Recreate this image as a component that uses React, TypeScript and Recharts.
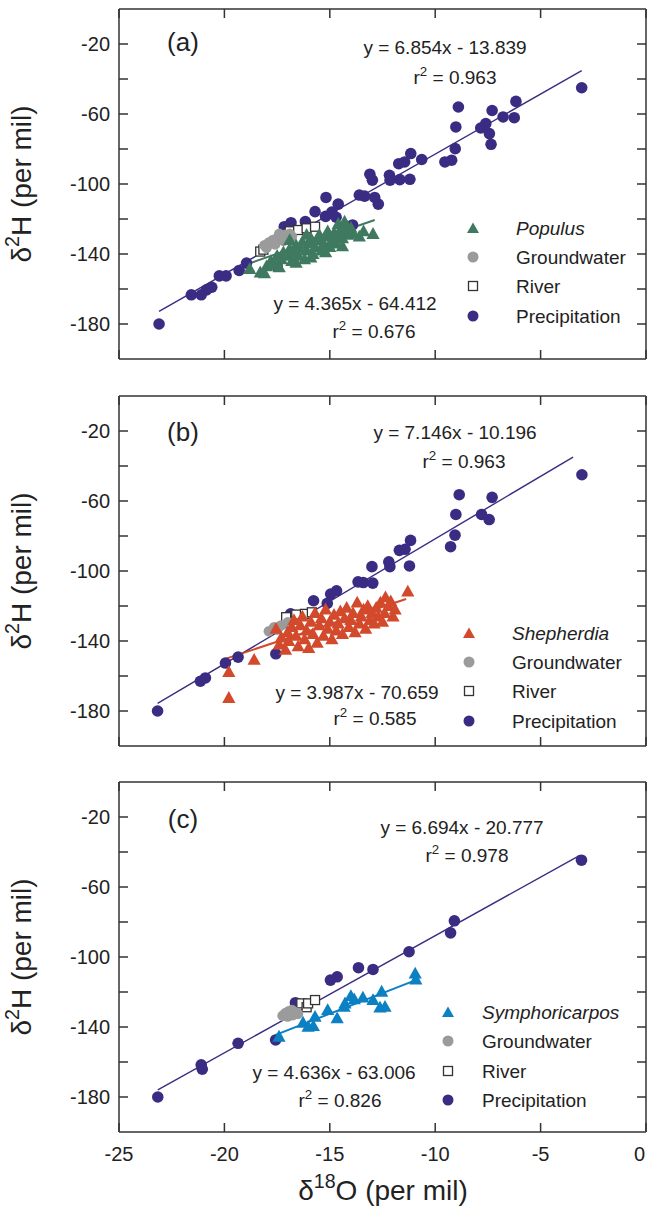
import React from "react";
import { ScatterChart, Scatter, XAxis, YAxis } from "recharts";

// δ18O / δ2H values (per mil)
type Pt = { x: number; y: number };
const toPts = (a: number[][]): Pt[] => a.map(([x, y]) => ({ x, y }));

const X_TICKS = [-25, -20, -15, -10, -5, 0];
const Y_TICKS = [-180, -160, -140, -120, -100, -80, -60, -40, -20];

// ---- panel (a) Populus ----
const A_PRECIP = [
  [-23.1, -180], [-21.57, -163.3], [-21.1, -163.3], [-20.85, -160.5], [-20.6, -159],
  [-20.24, -152.5], [-19.92, -152.5], [-19.3, -149.4], [-18.95, -145.2], [-17.5, -147],
  [-17.16, -124.4], [-16.84, -122.1], [-16.16, -121.5], [-15.7, -115.8], [-15.18, -107.7],
  [-15.2, -118.5], [-14.9, -116], [-14.7, -119], [-14.6, -111.5], [-13.92, -123.4],
  [-13.6, -106.3], [-13.35, -106.9], [-13.1, -94.4], [-12.98, -97.8], [-12.87, -107.7],
  [-12.7, -111.5], [-12.17, -95], [-12.14, -97.8], [-11.68, -97.5], [-11.2, -97.3],
  [-11.73, -88.4], [-11.45, -87.4], [-11.16, -82.6], [-10.64, -86], [-9.54, -87.4],
  [-9.22, -86.4], [-9.05, -79.8], [-9.02, -67.4], [-8.9, -56], [-7.84, -68],
  [-7.6, -65.5], [-7.43, -71.2], [-7.35, -77.3], [-7.3, -58], [-6.78, -61.7],
  [-6.25, -62.1], [-6.17, -52.8], [-3.05, -45],
];
const A_GROUND = [
  [-18.1, -135], [-17.9, -133.5], [-17.7, -132], [-17.5, -131], [-17.3, -130],
  [-17.1, -129], [-16.9, -128.5], [-18.0, -136.5], [-17.6, -134.5], [-17.2, -132.5],
  [-16.8, -130], [-17.4, -128.5],
];
const A_RIVER = [
  [-18.3, -138.6], [-18.15, -137.5], [-16.9, -127], [-16.5, -126.3], [-16.1, -125.3], [-15.7, -124.4],
];
const A_PLANT = [
  [-18.8, -148.5], [-18.3, -150.5], [-18.1, -151], [-18.0, -147], [-17.8, -144], [-17.6, -146],
  [-17.5, -141], [-17.3, -143], [-17.2, -139], [-17.0, -141], [-16.9, -137], [-16.8, -144],
  [-16.7, -139], [-16.6, -135], [-16.5, -141], [-16.4, -137], [-16.3, -133], [-16.2, -143],
  [-16.1, -138], [-16.0, -134], [-15.9, -131], [-15.8, -140], [-15.7, -136], [-15.6, -132],
  [-15.5, -129], [-15.4, -138], [-15.3, -134], [-15.2, -130], [-15.1, -127], [-15.0, -136],
  [-14.9, -132], [-14.8, -128], [-14.7, -134], [-14.6, -130], [-14.5, -126], [-14.4, -131],
  [-14.3, -127], [-14.2, -124], [-14.1, -129], [-14.0, -125], [-13.9, -128], [-13.6, -130],
  [-13.4, -127], [-12.95, -128.5], [-14.6, -122.8], [-14.3, -121.5], [-16.6, -145], [-17.4, -147.5],
  [-15.9, -142], [-15.2, -139], [-14.4, -135.5], [-16.9, -132], [-16.1, -129],
];
const A_PRECIP_FIT = [[-23.1, -172.8], [-3.05, -35.2]];
const A_PLANT_FIT = [[-18.78, -145.2], [-12.87, -120.6]];

// ---- panel (b) Shepherdia ----
const B_PRECIP = [
  [-23.17, -180], [-21.14, -163], [-20.9, -161.1], [-19.95, -152.6], [-19.35, -149.2],
  [-17.56, -147.3], [-16.86, -124.5], [-15.77, -117], [-15.12, -118.5], [-14.96, -113.2],
  [-14.68, -111.3], [-13.66, -106.2], [-13.41, -106.6], [-12.96, -106.9], [-13.0, -97.5],
  [-12.2, -94.8], [-12.15, -97.5], [-11.7, -88.2], [-11.43, -87.6], [-11.17, -82.5],
  [-11.22, -97.1], [-9.27, -86.1], [-9.06, -79.5], [-9.02, -67.7], [-8.86, -56.4],
  [-7.8, -67.7], [-7.44, -70.6], [-7.3, -57.9], [-3.04, -45],
];
const B_GROUND = [
  [-17.89, -134.4], [-17.64, -132.1], [-17.32, -131.2], [-16.99, -129.3], [-17.5, -133.5],
];
const B_RIVER = [
  [-17.07, -126.4], [-16.59, -124.9], [-16.18, -124.5], [-15.85, -123.6],
];
const B_PLANT = [
  [-19.79, -157.7], [-19.79, -172.5], [-18.59, -150.7], [-17.55, -133], [-17.4, -142],
  [-17.3, -138], [-17.1, -145], [-17.0, -135], [-16.95, -140], [-16.8, -132], [-16.7, -128],
  [-16.6, -137], [-16.5, -143], [-16.4, -131], [-16.3, -126], [-16.2, -139], [-16.1, -134],
  [-16.0, -144], [-15.9, -129], [-15.8, -136], [-15.7, -124], [-15.6, -141], [-15.5, -131],
  [-15.4, -127], [-15.3, -137], [-15.2, -122], [-15.1, -133], [-15.0, -129], [-14.9, -139],
  [-14.8, -125], [-14.7, -134], [-14.6, -130], [-14.5, -123], [-14.4, -136], [-14.3, -127],
  [-14.2, -121], [-14.1, -132], [-14.0, -128], [-13.9, -124], [-13.8, -135], [-13.7, -118],
  [-13.6, -130], [-13.5, -126], [-13.4, -122], [-13.3, -133], [-13.2, -120], [-13.1, -128],
  [-13.0, -124], [-12.9, -130], [-12.8, -121], [-12.7, -126], [-12.6, -118], [-12.5, -129],
  [-12.4, -124], [-12.36, -115], [-12.2, -120], [-12.11, -117.3], [-12.0, -126], [-11.9, -122],
  [-11.3, -111.7],
];
const B_PRECIP_FIT = [[-23.17, -175.7], [-3.46, -34.9]];
const B_PLANT_FIT = [[-19.92, -150.1], [-11.38, -116]];

// ---- panel (c) Symphoricarpos ----
const C_PRECIP = [
  [-23.16, -180], [-21.1, -161.6], [-21.05, -164.1], [-19.35, -149.3], [-17.57, -147.4],
  [-16.63, -126.1], [-14.97, -113.2], [-14.65, -111.3], [-13.64, -106.1], [-12.95, -107.1],
  [-11.24, -97], [-9.27, -86.2], [-9.09, -79.3], [-3.06, -44.7],
];
const C_GROUND = [
  [-17.24, -133.5], [-17.1, -132], [-16.95, -131], [-16.8, -130.3], [-16.65, -131.5],
  [-16.51, -132.5], [-17.0, -134], [-16.75, -133.2],
];
const C_RIVER = [
  [-16.35, -126.5], [-16.1, -128.7], [-16.03, -126.5], [-15.7, -124.6],
];
const C_PLANT = [
  [-17.41, -145.5], [-16.27, -137.5], [-16.03, -139.8], [-15.78, -139.4], [-15.7, -134.1],
  [-15.1, -130.3], [-14.65, -135], [-14.32, -128.4], [-14.28, -126.5], [-14.0, -122.3],
  [-13.84, -124.2], [-13.43, -123.2], [-12.95, -124.6], [-12.54, -119.8], [-12.62, -128.9],
  [-12.38, -128.4], [-10.95, -109.4], [-10.92, -112.8],
];
const C_PRECIP_FIT = [[-23.16, -175.9], [-3.14, -41.9]];
const C_PLANT_FIT = [[-17.57, -144.5], [-10.92, -113.2]];

const FONT = '"Liberation Sans", Arial, Helvetica, sans-serif';
const PURPLE = "#3b2c83";
const GRAY = "#9b9b9b";
const AXIS = "#333";

const circleShape = (fill: string, r: number) => (p: any) =>
  <circle cx={p.cx} cy={p.cy} r={r} fill={fill} />;
const triShape = (fill: string) => (p: any) =>
  <polygon
    points={`${p.cx},${p.cy - 6.8} ${p.cx - 6.6},${p.cy + 5} ${p.cx + 6.6},${p.cy + 5}`}
    fill={fill}
  />;
const squareShape = (p: any) =>
  <rect x={p.cx - 4.5} y={p.cy - 4.5} width={9} height={9} fill="#fff" stroke="#333" strokeWidth={1.3} />;
const noShape = () => <g />;

// last x label ("0") sits on the page edge, so anchor it at its right side
const XTick = (show: boolean) => (p: any) => {
  if (!show) return <g />;
  const v = p.payload.value;
  const atEdge = v === 0;
  return (
    <text
      x={atEdge ? p.x - 1 : p.x} y={p.y} dy="0.71em" textAnchor={atEdge ? "end" : "middle"}
      fontSize={20} fill="#222" fontFamily={FONT}
    >
      {String(v)}
    </text>
  );
};

function Sup({ base, sup, rest, size }: { base: string; sup: string; rest: string; size: number }) {
  return (
    <span>
      {base}
      <span style={{ fontSize: size * 0.7, position: "relative", top: -size * 0.42 }}>{sup}</span>
      {rest}
    </span>
  );
}

function Note({ x, y, size, children, style }: any) {
  return (
    <div
      style={{
        position: "absolute", left: x, top: y, transform: "translate(-50%, -50%)",
        fontSize: size, lineHeight: 1, whiteSpace: "nowrap", color: "#222", ...style,
      }}
    >
      {children}
    </div>
  );
}

function LegendSymbol({ kind, color }: { kind: string; color: string }) {
  return (
    <svg width={14} height={14} style={{ display: "block" }}>
      {kind === "tri" && <polygon points="7,1.5 1,12 13,12" fill={color} />}
      {kind === "circle" && <circle cx={7} cy={7} r={5.5} fill={color} />}
      {kind === "square" && <rect x={2.5} y={2.5} width={9} height={9} fill="#fff" stroke="#333" strokeWidth={1.3} />}
    </svg>
  );
}

type PanelProps = {
  top: number;
  height: number;
  letter: string;
  species: string;
  color: string;
  precip: number[][];
  ground: number[][];
  river: number[][];
  plant: number[][];
  precipFit: number[][];
  plantFit: number[][];
  eq1: string; r1: string; eq2: string; r2: string;
  pos: {
    letter: [number, number]; eq1: [number, number]; r1: [number, number];
    eq2: [number, number]; r2: [number, number];
    symX: number; textX: number; rows: number[];
  };
  xLabels: boolean;
};

// plot box: x 119..646, 350 px tall starting 9 px below the panel top
function Panel(props: PanelProps) {
  const { pos } = props;
  const legendItems = [
    { kind: "tri", color: props.color, label: props.species, italic: true },
    { kind: "circle", color: GRAY, label: "Groundwater" },
    { kind: "square", color: "#333", label: "River" },
    { kind: "circle", color: PURPLE, label: "Precipitation" },
  ];
  const xAxisH = props.height - 9 - 350 - 1;
  return (
    <div style={{ position: "absolute", left: 0, top: props.top, width: 648, height: props.height }}>
      <ScatterChart
        width={648}
        height={props.height}
        margin={{ top: 8, right: 1, bottom: 1, left: 0 }}
      >
        <XAxis
          xAxisId={0} type="number" dataKey="x" domain={[-25, 0]} ticks={X_TICKS} interval={0}
          allowDataOverflow height={xAxisH} tickSize={-9} tickMargin={24}
          stroke={AXIS} strokeWidth={1.5}
          tick={XTick(props.xLabels)}
        />
        <XAxis
          xAxisId="t" orientation="top" type="number" dataKey="x" domain={[-25, 0]} ticks={X_TICKS}
          interval={0} allowDataOverflow height={1} tickSize={-9} stroke={AXIS} strokeWidth={1.5}
          tickFormatter={() => ""}
        />
        <YAxis
          yAxisId={0} type="number" dataKey="y" domain={[-200, 0]} ticks={Y_TICKS} interval={0}
          allowDataOverflow width={119} tickSize={-9} tickMargin={18}
          stroke={AXIS} strokeWidth={1.5}
          tick={{ fontSize: 20, fill: "#222", fontFamily: FONT }}
          tickFormatter={(v: number) => ((v + 20) % 40 === 0 ? String(v) : "")}
        />
        <YAxis
          yAxisId="r" orientation="right" type="number" dataKey="y" domain={[-200, 0]} ticks={Y_TICKS}
          interval={0} allowDataOverflow width={1} tickSize={-9} stroke={AXIS} strokeWidth={1.5}
          tickFormatter={() => ""}
        />
        <Scatter data={toPts(props.precipFit)} line={{ stroke: PURPLE, strokeWidth: 1.4 }} shape={noShape} isAnimationActive={false} />
        <Scatter data={toPts(props.plantFit)} line={{ stroke: props.color, strokeWidth: 2 }} shape={noShape} isAnimationActive={false} />
        <Scatter data={toPts(props.precip)} shape={circleShape(PURPLE, 5.8)} isAnimationActive={false} />
        <Scatter data={toPts(props.river)} shape={squareShape} isAnimationActive={false} />
        <Scatter data={toPts(props.ground)} shape={circleShape(GRAY, 5.3)} isAnimationActive={false} />
        <Scatter data={toPts(props.plant)} shape={triShape(props.color)} isAnimationActive={false} />
      </ScatterChart>

      <Note x={pos.letter[0]} y={pos.letter[1]} size={26}>{props.letter}</Note>
      <Note x={pos.eq1[0]} y={pos.eq1[1]} size={19}>{props.eq1}</Note>
      <Note x={pos.r1[0]} y={pos.r1[1]} size={19}><Sup base="r" sup="2" rest={` = ${props.r1}`} size={19} /></Note>
      <Note x={pos.eq2[0]} y={pos.eq2[1]} size={19}>{props.eq2}</Note>
      <Note x={pos.r2[0]} y={pos.r2[1]} size={19}><Sup base="r" sup="2" rest={` = ${props.r2}`} size={19} /></Note>

      {legendItems.map((it, i) => (
        <React.Fragment key={it.label}>
          <div style={{ position: "absolute", left: pos.symX - 7, top: pos.rows[i] - 7 }}>
            <LegendSymbol kind={it.kind} color={it.color} />
          </div>
          <div
            style={{
              position: "absolute", left: pos.textX, top: pos.rows[i], transform: "translateY(-50%)",
              fontSize: 19, lineHeight: 1, whiteSpace: "nowrap", color: "#222",
              fontStyle: it.italic ? "italic" : "normal",
            }}
          >
            {it.label}
          </div>
        </React.Fragment>
      ))}

      <div
        style={{
          position: "absolute", left: 22, top: 9 + 175, transform: "translate(-50%, -50%) rotate(-90deg)",
          fontSize: 28, lineHeight: 1, whiteSpace: "nowrap", color: "#222",
        }}
      >
        <Sup base="δ" sup="2" rest="H (per mil)" size={28} />
      </div>
    </div>
  );
}

export default function App() {
  return (
    <div style={{ position: "absolute", left: 0, top: 0, width: 648, height: 1213, fontFamily: FONT, background: "#fff" }}>
      <Panel
        top={0} height={380} letter="(a)" species="Populus" color="#3f7a60"
        precip={A_PRECIP} ground={A_GROUND} river={A_RIVER} plant={A_PLANT}
        precipFit={A_PRECIP_FIT} plantFit={A_PLANT_FIT}
        eq1="y = 6.854x - 13.839" r1="0.963" eq2="y = 4.365x - 64.412" r2="0.676"
        pos={{ letter: [183, 42], eq1: [445, 47], r1: [455, 77], eq2: [355, 303], r2: [374, 331], symX: 473, textX: 516, rows: [228, 257, 286, 316] }}
        xLabels={false}
      />
      <Panel
        top={387} height={380} letter="(b)" species="Shepherdia" color="#d24a2b"
        precip={B_PRECIP} ground={B_GROUND} river={B_RIVER} plant={B_PLANT}
        precipFit={B_PRECIP_FIT} plantFit={B_PLANT_FIT}
        eq1="y = 7.146x - 10.196" r1="0.963" eq2="y = 3.987x - 70.659" r2="0.585"
        pos={{ letter: [183, 45], eq1: [455, 45], r1: [464, 74], eq2: [357, 305], r2: [375, 331], symX: 469, textX: 512, rows: [246, 275, 304, 334] }}
        xLabels={false}
      />
      <Panel
        top={773} height={440} letter="(c)" species="Symphoricarpos" color="#0b80c3"
        precip={C_PRECIP} ground={C_GROUND} river={C_RIVER} plant={C_PLANT}
        precipFit={C_PRECIP_FIT} plantFit={C_PLANT_FIT}
        eq1="y = 6.694x - 20.777" r1="0.978" eq2="y = 4.636x - 63.006" r2="0.826"
        pos={{ letter: [183, 46], eq1: [462, 54], r1: [467, 82], eq2: [334, 299], r2: [340, 327], symX: 448, textX: 482, rows: [239, 268, 298, 327] }}
        xLabels={true}
      />
      <div
        style={{
          position: "absolute", left: 383, top: 1191, transform: "translate(-50%, -50%)",
          fontSize: 28, lineHeight: 1, whiteSpace: "nowrap", color: "#222",
        }}
      >
        <Sup base="δ" sup="18" rest="O (per mil)" size={28} />
      </div>
    </div>
  );
}
